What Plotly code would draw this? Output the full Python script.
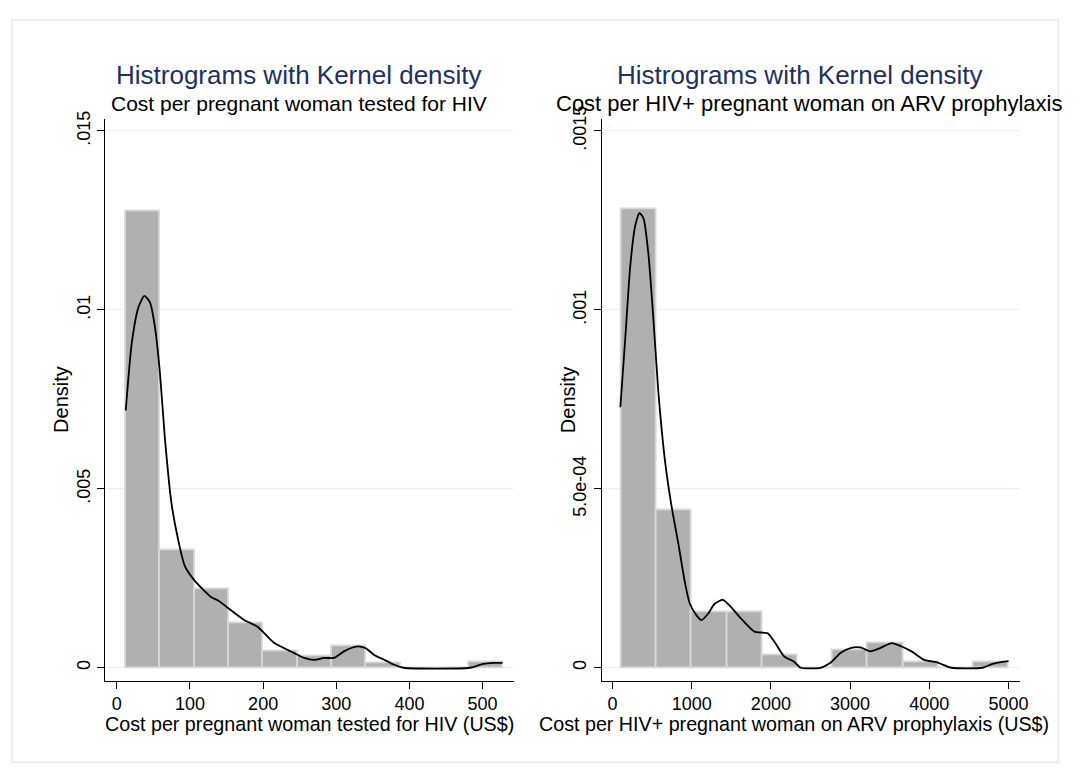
import plotly.graph_objects as go

# ---------------- data ----------------
# Left panel: cost per pregnant woman tested for HIV (US$)
left_bin_start = 12.5
left_bin_width = 46.9
left_density = [0.01277, 0.003297, 0.002198, 0.001236, 0.000458, 0.00032,
                0.000614, 0.000137, 0.0, 0.0, 0.000156]
left_kde_x = [12.2, 20.4, 29.5, 37.6, 45.3, 52.1, 58.9, 65.7, 74.8, 83.9, 93.0,
              106.6, 129.3, 138.4, 156.5, 174.6, 192.7, 215.4, 242.5, 256.0,
              269.7, 283.3, 296.9, 310.5, 328.6, 340.0, 351.3, 364.9, 378.5,
              392.0, 482.8, 500.9, 514.5, 527.2]
left_kde_y = [0.00719, 0.00907, 0.01007, 0.01039, 0.01021, 0.00952, 0.00824,
              0.00641, 0.00458, 0.00357, 0.00284, 0.00243, 0.00197, 0.00188,
              0.0016, 0.00133, 0.00114, 0.00069, 0.00041, 0.000275, 0.00022,
              0.000275, 0.000275, 0.000458, 0.000595, 0.00055, 0.000366,
              0.000229, 0.0000916, 0.0, 0.0, 0.00011, 0.000137, 0.000137]
left_yticks = [0, 0.005, 0.01, 0.015]
left_yticktext = ["0", ".005", ".01", ".015"]
left_xticks = [0, 100, 200, 300, 400, 500]

# Right panel: cost per HIV+ pregnant woman on ARV prophylaxis (US$)
right_bin_start = 113
right_bin_width = 444.7
right_density = [0.001282, 0.0004396, 0.0001557, 0.0001557, 0.0000348, 0.0,
                 0.0000504, 0.0000687, 0.0000147, 0.0, 0.0000165]
right_kde_x = [100, 163, 226, 288, 342, 393, 455, 518, 580, 664, 748, 831, 915,
               977, 1061, 1124, 1207, 1291, 1395, 1500, 1625, 1792, 1959, 2043,
               2168, 2293, 2377, 2628, 2753, 2878, 3004, 3129, 3254, 3380, 3526,
               3651, 3776, 3943, 4089, 4277, 4674, 4799, 5000]
right_kde_y = [0.000728, 0.000925, 0.001126, 0.001236, 0.001271, 0.001255,
               0.001154, 0.000971, 0.000769, 0.000577, 0.000449, 0.000348,
               0.000238, 0.000179, 0.0001465, 0.000133, 0.000151, 0.000179,
               0.00019, 0.000169, 0.000137, 0.000101, 0.0000962, 0.0000733,
               0.000032, 0.0000165, 0.0, 0.0, 0.0000137, 0.0000412, 0.000055,
               0.0000568, 0.0000458, 0.000055, 0.0000687, 0.0000595, 0.0000458,
               0.0000211, 0.0000156, 0.0, 0.0, 0.000011, 0.0000183]
right_yticks = [0, 0.0005, 0.001, 0.0015]
right_yticktext = ["0", "5.0e-04", ".001", ".0015"]
right_xticks = [0, 1000, 2000, 3000, 4000, 5000]

title_text = "Histrograms with Kernel density"
left_subtitle = "Cost per pregnant woman tested for HIV"
right_subtitle = "Cost per HIV+ pregnant woman on ARV prophylaxis"
left_xtitle = "Cost per pregnant woman tested for HIV (US$)"
right_xtitle = "Cost per HIV+ pregnant woman on ARV prophylaxis (US$)"
ytitle = "Density"

# ---------------- styling ----------------
W, H = 1083, 770
FONT = "Liberation Sans, Arial, Helvetica, sans-serif"
BAR_FILL = "rgb(176,176,176)"
BAR_LINE = "rgb(216,216,216)"
GRID = "rgb(232,240,242)"
TITLE_COLOR = "rgb(32,48,96)"


def px_x(p):
    return p / W


def px_y(p):
    return 1 - p / H


def centers(start, width, n):
    return [start + width * (i + 0.5) for i in range(n)]


fig = go.Figure()

fig.add_trace(go.Bar(
    x=centers(left_bin_start, left_bin_width, len(left_density)),
    y=left_density, width=left_bin_width,
    marker=dict(color=BAR_FILL, line=dict(color=BAR_LINE, width=1.8)),
    xaxis="x", yaxis="y", showlegend=False, hoverinfo="skip"))
fig.add_trace(go.Scatter(
    x=left_kde_x, y=left_kde_y, mode="lines",
    line=dict(color="black", width=1.8, shape="spline", smoothing=0.6),
    xaxis="x", yaxis="y", showlegend=False))

fig.add_trace(go.Bar(
    x=centers(right_bin_start, right_bin_width, len(right_density)),
    y=right_density, width=right_bin_width,
    marker=dict(color=BAR_FILL, line=dict(color=BAR_LINE, width=1.8)),
    xaxis="x2", yaxis="y2", showlegend=False, hoverinfo="skip"))
fig.add_trace(go.Scatter(
    x=right_kde_x, y=right_kde_y, mode="lines",
    line=dict(color="black", width=1.8, shape="spline", smoothing=0.6),
    xaxis="x2", yaxis="y2", showlegend=False))

tickfont = dict(family=FONT, size=18, color="black")
ydom = [px_y(679), px_y(108)]

common_x = dict(showline=True, linecolor="black", linewidth=1, ticks="outside",
                ticklen=7, tickcolor="black", tickfont=tickfont, showgrid=False,
                zeroline=False, fixedrange=True)
common_y = dict(showline=True, linecolor="black", linewidth=1, ticks="outside",
                ticklen=7, tickcolor="black", tickfont=tickfont, showgrid=True,
                gridcolor=GRID, gridwidth=1, zeroline=False, tickangle=-90,
                fixedrange=True)

fig.update_layout(
    width=W, height=H, margin=dict(l=0, r=0, t=0, b=0),
    paper_bgcolor="white", plot_bgcolor="white", bargap=0,
    xaxis=dict(domain=[px_x(105.7), px_x(518)], range=[-16.3, 543.2],
               tickvals=left_xticks, anchor="y", **common_x),
    yaxis=dict(domain=ydom, range=[-0.000357, 0.01533], tickvals=left_yticks,
               ticktext=left_yticktext, anchor="x", **common_y),
    xaxis2=dict(domain=[px_x(606), px_x(1028)], range=[-138, 5150],
                tickvals=right_xticks, anchor="y2", **common_x),
    yaxis2=dict(domain=ydom, range=[-0.0000357, 0.001533], tickvals=right_yticks,
                ticktext=right_yticktext, anchor="x2", **common_y),
)

# outer frame
fig.add_shape(type="rect", xref="paper", yref="paper",
              x0=px_x(12), x1=px_x(1066), y0=px_y(762), y1=px_y(7),
              line=dict(color="rgb(225,236,240)", width=1.5), fillcolor="rgba(0,0,0,0)",
              layer="below")

ann = []
# titles
for cx in [301, 806]:
    ann.append(dict(x=px_x(cx), y=px_y(63), xref="paper", yref="paper", text=title_text,
                    showarrow=False, xanchor="center", yanchor="middle",
                    font=dict(family=FONT, size=26, color=TITLE_COLOR)))
ann.append(dict(x=px_x(301), y=px_y(92), xref="paper", yref="paper", text=left_subtitle,
                showarrow=False, xanchor="center", yanchor="middle",
                font=dict(family=FONT, size=21, color="black")))
ann.append(dict(x=px_x(558), y=px_y(92), xref="paper", yref="paper", text=right_subtitle,
                showarrow=False, xanchor="left", yanchor="middle",
                font=dict(family=FONT, size=22, color="black")))
# axis titles
for cx, t in [(312, left_xtitle), (800, right_xtitle)]:
    ann.append(dict(x=px_x(cx), y=px_y(723), xref="paper", yref="paper", text=t,
                    showarrow=False, xanchor="center", yanchor="middle",
                    font=dict(family=FONT, size=19.7, color="black")))
for cx in [62, 573]:
    ann.append(dict(x=px_x(cx), y=px_y(393), xref="paper", yref="paper", text=ytitle,
                    showarrow=False, xanchor="center", yanchor="middle", textangle=-90,
                    font=dict(family=FONT, size=20, color="black")))
fig.update_layout(annotations=ann)

fig.write_html(
    "out.html",
    config={"displayModeBar": False},
    post_script="document.body.style.margin='0';document.body.style.padding='0';document.body.style.overflow='hidden';",
)
